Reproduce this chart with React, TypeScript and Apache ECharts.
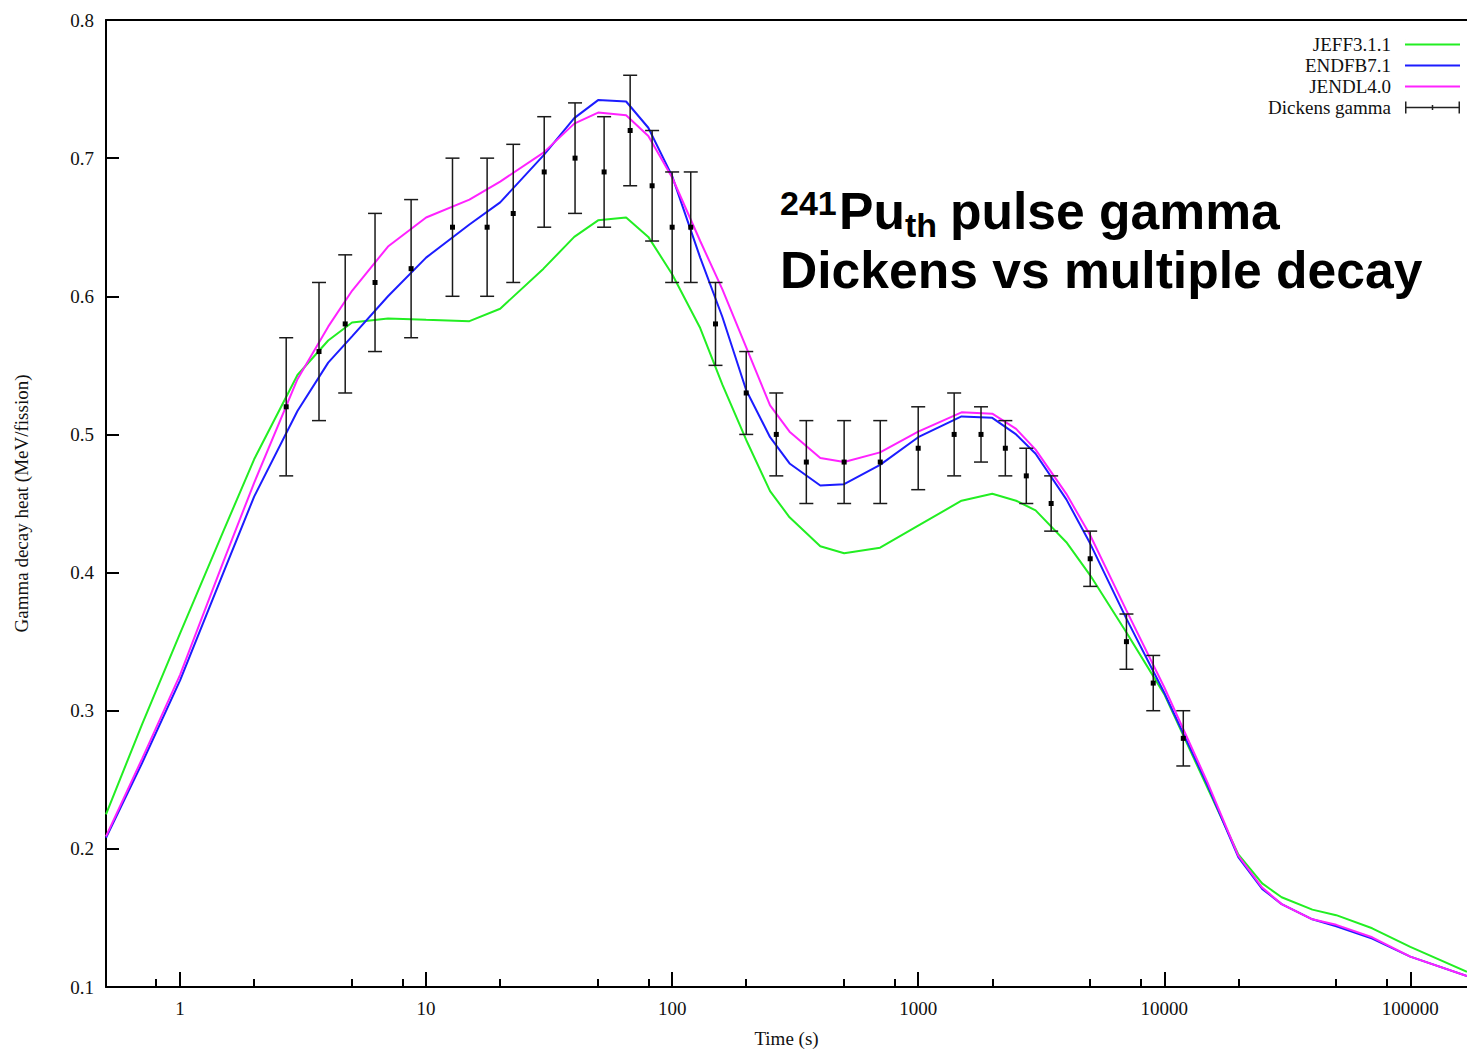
import React, { useEffect, useRef } from "react";
import * as echarts from "echarts";

// Time grid (s) at which the three decay-heat curves are read
const times = [0.5, 0.7, 1, 1.5, 2, 3, 4, 5, 7, 10, 15, 20, 30, 40, 50, 65, 80, 100, 130, 160, 200, 250, 300, 400, 500, 700, 1000, 1500, 2000, 2500, 3000, 4000, 5000, 7000, 10000, 15000, 20000, 25000, 30000, 40000, 50000, 70000, 100000, 170000];

const jeff = [0.225, 0.29, 0.356, 0.43, 0.482, 0.543, 0.568, 0.581, 0.584, 0.583, 0.582, 0.591, 0.62, 0.643, 0.655, 0.657, 0.643, 0.616, 0.577, 0.536, 0.496, 0.459, 0.44, 0.419, 0.414, 0.418, 0.434, 0.452, 0.457, 0.452, 0.445, 0.422, 0.398, 0.357, 0.312, 0.244, 0.196, 0.175, 0.165, 0.156, 0.152, 0.1425, 0.129, 0.111];

const endfb = [0.208, 0.262, 0.322, 0.4, 0.455, 0.517, 0.552, 0.571, 0.6, 0.628, 0.652, 0.668, 0.702, 0.729, 0.742, 0.741, 0.722, 0.687, 0.628, 0.585, 0.532, 0.498, 0.479, 0.463, 0.464, 0.478, 0.498, 0.513, 0.512, 0.5, 0.486, 0.453, 0.421, 0.367, 0.313, 0.246, 0.194, 0.171, 0.16, 0.149, 0.144, 0.135, 0.122, 0.108];

const jendl = [0.209, 0.265, 0.326, 0.408, 0.465, 0.54, 0.578, 0.604, 0.636, 0.657, 0.67, 0.683, 0.704, 0.725, 0.733, 0.731, 0.716, 0.686, 0.64, 0.605, 0.563, 0.521, 0.502, 0.483, 0.48, 0.487, 0.502, 0.516, 0.515, 0.504, 0.489, 0.457, 0.427, 0.373, 0.317, 0.248, 0.195, 0.172, 0.16, 0.149, 0.145, 0.136, 0.122, 0.108];

// Dickens measurement
const dickensT = [2.7, 3.67, 4.69, 6.2, 8.69, 12.8, 17.7, 22.6, 30.2, 40.3, 52.9, 67.5, 82.9, 100, 119, 150, 200, 265, 351, 500, 701, 1000, 1400, 1800, 2260, 2750, 3470, 5000, 7020, 9020, 11950];
const dickensY = [0.52, 0.56, 0.58, 0.61, 0.62, 0.65, 0.65, 0.66, 0.69, 0.7, 0.69, 0.72, 0.68, 0.65, 0.65, 0.58, 0.53, 0.5, 0.48, 0.48, 0.48, 0.49, 0.5, 0.5, 0.49, 0.47, 0.45, 0.41, 0.35, 0.32, 0.28];
const dickensErr = [0.05, 0.05, 0.05, 0.05, 0.05, 0.05, 0.05, 0.05, 0.04, 0.04, 0.04, 0.04, 0.04, 0.04, 0.04, 0.03, 0.03, 0.03, 0.03, 0.03, 0.03, 0.03, 0.03, 0.02, 0.02, 0.02, 0.02, 0.02, 0.02, 0.02, 0.02];

const majorTicks = [1, 10, 100, 1000, 10000, 100000];
const minorTicks = [0.8, 2, 5, 8, 20, 50, 80, 200, 500, 800, 2000, 5000, 8000, 20000, 50000, 80000];
const yTicks = [0.1, 0.2, 0.3, 0.4, 0.5, 0.6, 0.7, 0.8];

const SERIF = "Liberation Serif";
const SANS = "Liberation Sans";

const LINE_ICON = "path://M0,0h0.01v12h-0.01z M0,5h55v2h-55z";
const ERR_ICON = "path://M0,0h1.5v12h-1.5z M0,5.25h55v1.5h-55z M53.5,0h1.5v12h-1.5z M26.75,3.5h1.5v5h-1.5z";

export default function App() {
  const ref = useRef<HTMLDivElement>(null);

  useEffect(() => {
    if (!ref.current) return;
    const chart = echarts.init(ref.current, undefined, { renderer: "svg" });

    const lineData = (vals: number[]) => times.map((t, i) => [t, vals[i]]);
    const errData = dickensT.map((t, i) => [t, dickensY[i], dickensY[i] - dickensErr[i], dickensY[i] + dickensErr[i]]);

    const axisBase = {
      type: "log" as const,
      logBase: 10,
      min: 0.5,
      max: 170000,
      gridIndex: 0,
      splitLine: { show: false },
    };

    const titleStyle = (text: string, size: number) => ({
      text,
      fontSize: size,
      fontWeight: "bold",
      fontFamily: SANS,
      fill: "#000",
      align: "left",
      verticalAlign: "middle",
    });

    chart.setOption({
      animation: false,
      backgroundColor: "#fff",
      grid: { left: 106, right: 0, top: 20, bottom: 62, containLabel: false },
      legend: {
        orient: "vertical",
        right: 7,
        top: 35,
        padding: 0,
        align: "right",
        itemWidth: 55,
        itemHeight: 12,
        itemGap: 2,
        textStyle: { fontFamily: SERIF, fontSize: 19, color: "#111", lineHeight: 19, padding: [0, 9, 0, 0] },
        data: [
          { name: "JEFF3.1.1", icon: LINE_ICON },
          { name: "ENDFB7.1", icon: LINE_ICON },
          { name: "JENDL4.0", icon: LINE_ICON },
          { name: "Dickens gamma", icon: ERR_ICON, itemStyle: { color: "#222" } },
        ],
      },
      xAxis: [
        {
          ...axisBase,
          position: "bottom",
          name: "Time (s)",
          nameLocation: "middle",
          nameGap: 42,
          nameTextStyle: { fontFamily: SERIF, fontSize: 19, color: "#111" },
          axisLine: { show: true, lineStyle: { color: "#000", width: 2 } },
          axisTick: { show: true, inside: true, length: 15, customValues: majorTicks, lineStyle: { color: "#000", width: 2 } },
          axisLabel: {
            show: true,
            customValues: majorTicks,
            margin: 12,
            fontFamily: SERIF,
            fontSize: 19,
            color: "#111",
            formatter: (v: number) => String(Math.round(v)),
          },
        },
        {
          ...axisBase,
          position: "bottom",
          axisLine: { show: false },
          axisTick: { show: true, inside: true, length: 8, customValues: minorTicks, lineStyle: { color: "#000", width: 2 } },
          axisLabel: { show: false },
        },
        {
          ...axisBase,
          position: "top",
          axisLine: { show: true, lineStyle: { color: "#000", width: 2 } },
          axisTick: { show: false },
          axisLabel: { show: false },
        },
      ],
      yAxis: {
        type: "value",
        min: 0.1,
        max: 0.8,
        interval: 0.1,
        name: "Gamma decay heat (MeV/fission)",
        nameLocation: "middle",
        nameGap: 75,
        nameTextStyle: { fontFamily: SERIF, fontSize: 19, color: "#111" },
        axisLine: { show: true, lineStyle: { color: "#000", width: 2 } },
        axisTick: { show: true, inside: true, length: 13, lineStyle: { color: "#000", width: 2 } },
        axisLabel: {
          margin: 12,
          fontFamily: SERIF,
          fontSize: 19,
          color: "#111",
          customValues: yTicks,
          formatter: (v: number) => v.toFixed(1),
        },
        splitLine: { show: false },
      },
      series: [
        {
          name: "JEFF3.1.1",
          type: "line",
          data: lineData(jeff),
          symbol: "none",
          showSymbol: false,
          lineStyle: { color: "#22ee22", width: 2 },
          itemStyle: { color: "#22ee22" },
          z: 2,
        },
        {
          name: "ENDFB7.1",
          type: "line",
          data: lineData(endfb),
          symbol: "none",
          showSymbol: false,
          lineStyle: { color: "#1c1cff", width: 2 },
          itemStyle: { color: "#1c1cff" },
          z: 3,
        },
        {
          name: "JENDL4.0",
          type: "line",
          data: lineData(jendl),
          symbol: "none",
          showSymbol: false,
          lineStyle: { color: "#ff22ff", width: 2 },
          itemStyle: { color: "#ff22ff" },
          z: 4,
        },
        {
          name: "Dickens gamma",
          type: "custom",
          data: errData,
          encode: { x: 0, y: 1 },
          itemStyle: { color: "#222" },
          z: 5,
          renderItem: (params: any, api: any) => {
            const t = api.value(0);
            const p = api.coord([t, api.value(1)]);
            const lo = api.coord([t, api.value(2)]);
            const hi = api.coord([t, api.value(3)]);
            const cap = 7;
            const st = { stroke: "#1a1a1a", lineWidth: 1.5, fill: "none" };
            return {
              type: "group",
              children: [
                { type: "line", shape: { x1: hi[0], y1: hi[1], x2: lo[0], y2: lo[1] }, style: st },
                { type: "line", shape: { x1: hi[0] - cap, y1: hi[1], x2: hi[0] + cap, y2: hi[1] }, style: st },
                { type: "line", shape: { x1: lo[0] - cap, y1: lo[1], x2: lo[0] + cap, y2: lo[1] }, style: st },
                { type: "rect", shape: { x: p[0] - 2.5, y: p[1] - 2.5, width: 5, height: 5 }, style: { fill: "#000" } },
              ],
            };
          },
        },
      ],
      graphic: [
        { type: "text", x: 780, y: 203, style: titleStyle("241", 34) },
        { type: "text", x: 839, y: 211, style: titleStyle("Pu", 51.6) },
        { type: "text", x: 905, y: 225, style: titleStyle("th", 34) },
        { type: "text", x: 950, y: 211, style: titleStyle("pulse gamma", 51.6) },
        { type: "text", x: 780, y: 270, style: titleStyle("Dickens vs multiple decay", 51.6) },
      ],
    });

    return () => chart.dispose();
  }, []);

  return (
    <div
      ref={ref}
      style={{ position: "absolute", left: 0, top: 0, width: 1467, height: 1053, background: "#fff" }}
    />
  );
}
